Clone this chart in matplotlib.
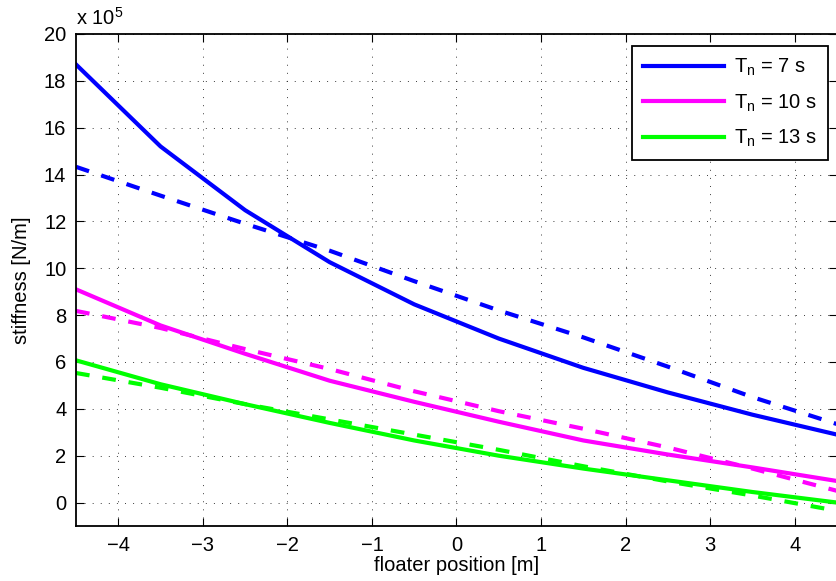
import numpy as np
import matplotlib
matplotlib.use("Agg")
import matplotlib.pyplot as plt

plt.rcParams['font.family'] = ['Liberation Sans', 'DejaVu Sans']
plt.rcParams['mathtext.fontset'] = 'custom'
plt.rcParams['mathtext.rm'] = 'Liberation Sans'

# floater position [m]
x = [-4.5, -3.5, -2.5, -1.5, -0.5, 0.5, 1.5, 2.5, 3.5, 4.5]

# stiffness, units of 1e5 N/m (solid = computed, dashed = approximation)
k7_solid = [18.7, 15.2, 12.48, 10.26, 8.46, 7.0, 5.75, 4.7, 3.75, 2.9]
k7_dash = [14.33, 13.1, 11.9, 10.75, 9.45, 8.2, 7.05, 5.8, 4.5, 3.35]
k10_solid = [9.1, 7.56, 6.35, 5.2, 4.3, 3.45, 2.65, 2.05, 1.5, 0.92]
k10_dash = [8.18, 7.45, 6.55, 5.7, 4.75, 3.9, 3.15, 2.35, 1.45, 0.5]
k13_solid = [6.07, 5.05, 4.2, 3.4, 2.65, 2.0, 1.45, 0.95, 0.45, 0.0]
k13_dash = [5.53, 4.9, 4.2, 3.55, 2.9, 2.25, 1.55, 0.9, 0.3, -0.35]

labels = [r'$\mathregular{T_n}$ = 7 s', r'$\mathregular{T_n}$ = 10 s', r'$\mathregular{T_n}$ = 13 s']
colors = ['#0000ff', '#ff00ff', '#00ff00']

fs = 14.5
fig = plt.figure(figsize=(8.36, 5.81), dpi=100)
ax = fig.add_axes([0.0909, 0.0947, 0.9103, 0.8468])

dash = (0, (3.3, 3.1))
lw = 3.0
for ys, yd, c, lab in zip([k7_solid, k10_solid, k13_solid],
                          [k7_dash, k10_dash, k13_dash], colors, labels):
    ax.plot(x, ys, color=c, lw=lw, label=lab)
    ax.plot(x, yd, color=c, lw=lw, linestyle=dash)

ax.set_xlim(-4.5, 4.5)
ax.set_ylim(-1, 20)
ax.set_xticks(np.arange(-4, 5, 1))
ax.set_yticks(np.arange(0, 21, 2))
ax.grid(True, color='#222222', linestyle=(0, (1.2, 8.5)), linewidth=0.6)
ax.tick_params(direction='in', top=True, right=True, labelsize=fs, length=6, width=0.8, pad=7)
for s in ax.spines.values():
    s.set_linewidth(1.3)

ax.set_xlabel('floater position [m]', fontsize=fs, labelpad=1)
ax.set_ylabel('stiffness [N/m]', fontsize=fs, labelpad=9)
ax.text(0.0, 1.01, r'x 10$^{\mathregular{5}}$', transform=ax.transAxes,
        fontsize=fs, ha='left', va='bottom')

leg = ax.legend(loc='upper right', bbox_to_anchor=(0.988, 0.976), fontsize=fs,
                handlelength=4.0, handletextpad=0.5, fancybox=False, framealpha=1,
                edgecolor='black', borderpad=0.55, labelspacing=0.7, borderaxespad=0)
leg.get_frame().set_linewidth(1.3)

fig.savefig('out.png', dpi=100)
